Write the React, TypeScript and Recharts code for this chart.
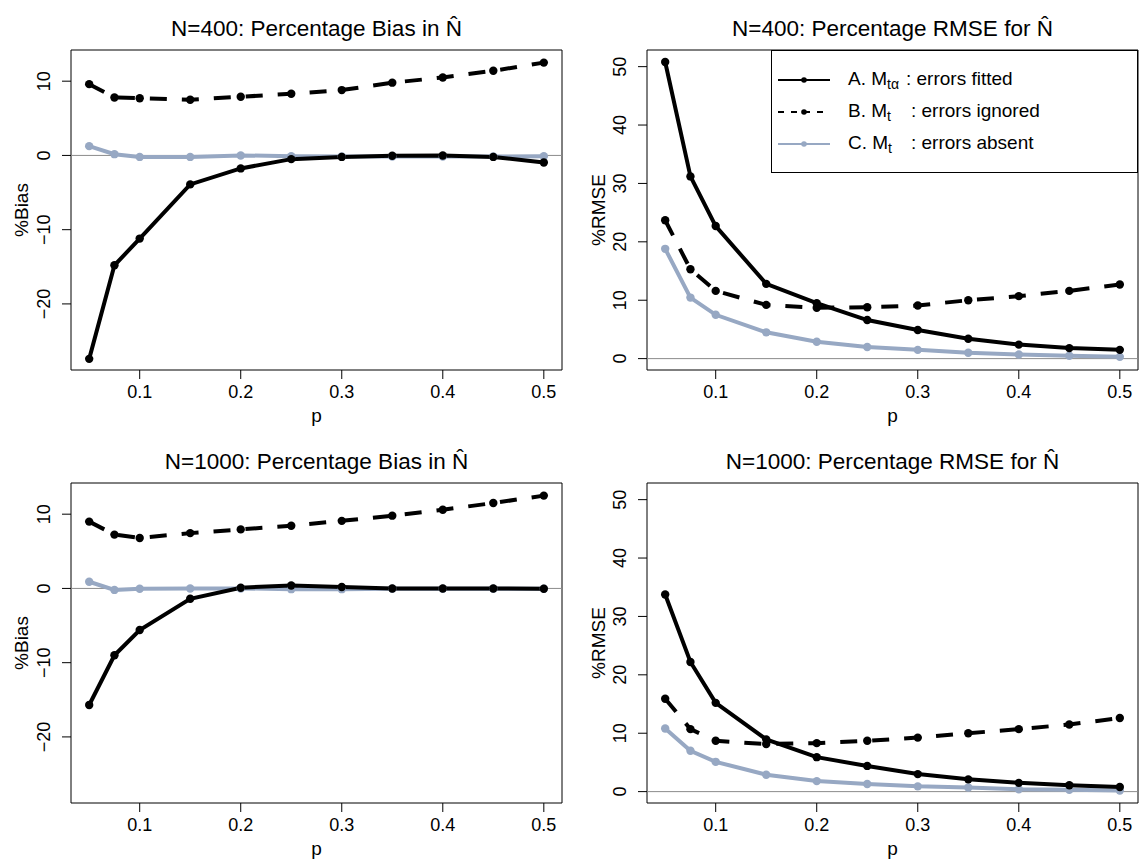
import React from "react"
import {
  LineChart,
  Line,
  XAxis,
  YAxis,
  ReferenceLine,
  ReferenceArea,
} from "recharts"

// p values on the x axis
const pValues = [0.05, 0.075, 0.1, 0.15, 0.2, 0.25, 0.3, 0.35, 0.4, 0.45, 0.5]
const xTicks = [0.1, 0.2, 0.3, 0.4, 0.5]

// N=400, percentage bias
const bias400Fitted = [-27.4, -14.8, -11.2, -3.9, -1.75, -0.5, -0.2, -0.05, 0, -0.2, -0.95]
const bias400Ignored = [9.6, 7.8, 7.7, 7.5, 7.9, 8.3, 8.8, 9.8, 10.5, 11.4, 12.5]
const bias400Absent = [1.25, 0.17, -0.2, -0.2, 0, -0.1, -0.15, -0.15, -0.15, -0.15, -0.1]

// N=400, percentage RMSE
const rmse400Fitted = [50.8, 31.2, 22.7, 12.8, 9.5, 6.6, 4.9, 3.4, 2.4, 1.8, 1.5]
const rmse400Ignored = [23.7, 15.3, 11.6, 9.2, 8.7, 8.8, 9.1, 10.0, 10.7, 11.6, 12.7]
const rmse400Absent = [18.8, 10.45, 7.5, 4.5, 2.9, 2.0, 1.5, 1.0, 0.7, 0.5, 0.3]

// N=1000, percentage bias
const bias1000Fitted = [-15.7, -9.0, -5.6, -1.4, 0.1, 0.4, 0.2, 0, 0, 0, -0.05]
const bias1000Ignored = [9.0, 7.25, 6.8, 7.45, 7.95, 8.45, 9.1, 9.8, 10.6, 11.5, 12.5]
const bias1000Absent = [0.9, -0.2, -0.05, 0, 0, -0.1, -0.1, -0.05, -0.05, -0.05, -0.05]

// N=1000, percentage RMSE
const rmse1000Fitted = [33.75, 22.2, 15.2, 8.95, 5.9, 4.4, 3.0, 2.1, 1.5, 1.1, 0.8]
const rmse1000Ignored = [15.9, 10.7, 8.7, 8.15, 8.3, 8.7, 9.25, 10.0, 10.7, 11.5, 12.6]
const rmse1000Absent = [10.8, 7.0, 5.1, 2.9, 1.8, 1.3, 0.9, 0.7, 0.4, 0.3, 0.2]

const biasTicks = [-20, -10, 0, 10]
const rmseTicks = [0, 10, 20, 30, 40, 50]
const biasDomain = [-28.9, 14.2]
const rmseDomain = [-1.95, 52.85]
const xDomain = [0.032, 0.518]

const FONT = '"Liberation Sans", Arial, Helvetica, sans-serif'
const GREY = "#97a8c3"

function buildRows(fitted: number[], ignored: number[], absent: number[]) {
  return pValues.map((p, i) => ({ p, fitted: fitted[i], ignored: ignored[i], absent: absent[i] }))
}

// R prints a real minus sign
const fmt = (v: number) => String(v).replace("-", "\u2212")

const YTick = (props: any) => {
  const { x, y, payload } = props
  return (
    <text
      transform={`translate(${x},${y}) rotate(-90)`}
      textAnchor="middle"
      fontSize={18}
      fontFamily={FONT}
      fill="#000"
    >
      {fmt(payload.value)}
    </text>
  )
}

function Panel({ left, top, rows, yDomain, yTicks }: any) {
  return (
    <div style={{ position: "absolute", left, top }}>
      <LineChart
        width={572}
        height={430}
        data={rows}
        margin={{ top: 50, right: 10, left: 0, bottom: 10 }}
      >
        <XAxis
          dataKey="p"
          type="number"
          domain={xDomain}
          ticks={xTicks}
          allowDataOverflow
          height={50}
          axisLine={false}
          tickLine={{ stroke: "#000" }}
          tickSize={9}
          tickMargin={6}
          tick={{ fill: "#000", fontSize: 18, fontFamily: FONT }}
        />
        <YAxis
          type="number"
          domain={yDomain}
          ticks={yTicks}
          allowDataOverflow
          width={71}
          axisLine={false}
          tickLine={{ stroke: "#000" }}
          tickSize={9}
          tickMargin={12}
          tick={<YTick />}
        />
        <ReferenceLine y={0} stroke="#8c8c8c" strokeWidth={1} />
        <Line
          dataKey="absent"
          stroke={GREY}
          strokeWidth={4}
          dot={{ r: 4.2, fill: GREY, stroke: "none" }}
          isAnimationActive={false}
        />
        <Line
          dataKey="ignored"
          stroke="#000"
          strokeWidth={4}
          strokeDasharray="17 15"
          dot={{ r: 4.2, fill: "#000", stroke: "none", strokeDasharray: "0" }}
          isAnimationActive={false}
        />
        <Line
          dataKey="fitted"
          stroke="#000"
          strokeWidth={4}
          dot={{ r: 4.2, fill: "#000", stroke: "none" }}
          isAnimationActive={false}
        />
        <ReferenceArea
          x1={xDomain[0]}
          x2={xDomain[1]}
          y1={yDomain[0]}
          y2={yDomain[1]}
          fill="none"
          stroke="#000"
          strokeWidth={1}
          fillOpacity={0}
        />
      </LineChart>
    </div>
  )
}

const titles = [
  { x: 316.5, y: 36, text: "N=400: Percentage Bias in N\u0302" },
  { x: 892.5, y: 36, text: "N=400: Percentage RMSE for N\u0302" },
  { x: 316.5, y: 469, text: "N=1000: Percentage Bias in N\u0302" },
  { x: 892.5, y: 469, text: "N=1000: Percentage RMSE for N\u0302" },
]

function LegendSample({ dashed, color }: any) {
  return (
    <svg width={56} height={12} style={{ position: "absolute", left: 4, top: -6 }}>
      <line
        x1={2}
        x2={54}
        y1={6}
        y2={6}
        stroke={color}
        strokeWidth={2}
        strokeDasharray={dashed ? "6 7" : undefined}
      />
      <circle cx={28} cy={6} r={2.8} fill={color} />
    </svg>
  )
}

function LegendBox() {
  const rowStyle: React.CSSProperties = { position: "absolute", left: 0, width: "100%", height: 0 }
  const textStyle: React.CSSProperties = {
    position: "absolute",
    top: -12,
    fontSize: 19,
    fontFamily: FONT,
    lineHeight: "22px",
    whiteSpace: "nowrap",
    color: "#000",
  }
  const sub: React.CSSProperties = { fontSize: 14, verticalAlign: -4, lineHeight: 0 }
  const rows = [
    { y: 29, color: "#000", dashed: false, lab: "A. M", sub: "t\u03b1", colonX: 134, rest: ": errors fitted" },
    { y: 61, color: "#000", dashed: true, lab: "B. M", sub: "t", colonX: 139, rest: ": errors ignored" },
    { y: 93, color: GREY, dashed: false, lab: "C. M", sub: "t", colonX: 139, rest: ": errors absent" },
  ]
  return (
    <div
      style={{
        position: "absolute",
        left: 771,
        top: 50,
        width: 367,
        height: 123,
        border: "1px solid #000",
        boxSizing: "border-box",
        background: "#fff",
      }}
    >
      {rows.map((r) => (
        <div key={r.lab} style={{ ...rowStyle, top: r.y }}>
          <LegendSample dashed={r.dashed} color={r.color} />
          <span style={{ ...textStyle, left: 76 }}>
            {r.lab}
            <span style={sub}>{r.sub}</span>
          </span>
          <span style={{ ...textStyle, left: r.colonX }}>{r.rest}</span>
        </div>
      ))}
    </div>
  )
}

export default function App() {
  return (
    <div
      style={{
        position: "absolute",
        left: 0,
        top: 0,
        width: 1144,
        height: 863,
        overflow: "hidden",
        background: "#fff",
      }}
    >
      <Panel left={0} top={0} rows={buildRows(bias400Fitted, bias400Ignored, bias400Absent)} yDomain={biasDomain} yTicks={biasTicks} />
      <Panel left={576} top={0} rows={buildRows(rmse400Fitted, rmse400Ignored, rmse400Absent)} yDomain={rmseDomain} yTicks={rmseTicks} />
      <Panel left={0} top={433} rows={buildRows(bias1000Fitted, bias1000Ignored, bias1000Absent)} yDomain={biasDomain} yTicks={biasTicks} />
      <Panel left={576} top={433} rows={buildRows(rmse1000Fitted, rmse1000Ignored, rmse1000Absent)} yDomain={rmseDomain} yTicks={rmseTicks} />
      <svg
        width={1144}
        height={863}
        style={{ position: "absolute", left: 0, top: 0, pointerEvents: "none" }}
        fontFamily={FONT}
      >
        {titles.map((t) => (
          <text key={t.text} x={t.x} y={t.y} textAnchor="middle" fontSize={22.5} fill="#000">
            {t.text}
          </text>
        ))}
        <text x={316.5} y={422} textAnchor="middle" fontSize={19}>p</text>
        <text x={892.5} y={422} textAnchor="middle" fontSize={19}>p</text>
        <text x={316.5} y={855} textAnchor="middle" fontSize={19}>p</text>
        <text x={892.5} y={855} textAnchor="middle" fontSize={19}>p</text>
        <text transform="translate(28,210) rotate(-90)" textAnchor="middle" fontSize={19}>%Bias</text>
        <text transform="translate(28,643) rotate(-90)" textAnchor="middle" fontSize={19}>%Bias</text>
        <text transform="translate(605,210) rotate(-90)" textAnchor="middle" fontSize={19}>%RMSE</text>
        <text transform="translate(605,643) rotate(-90)" textAnchor="middle" fontSize={19}>%RMSE</text>
      </svg>
      <LegendBox />
    </div>
  )
}
